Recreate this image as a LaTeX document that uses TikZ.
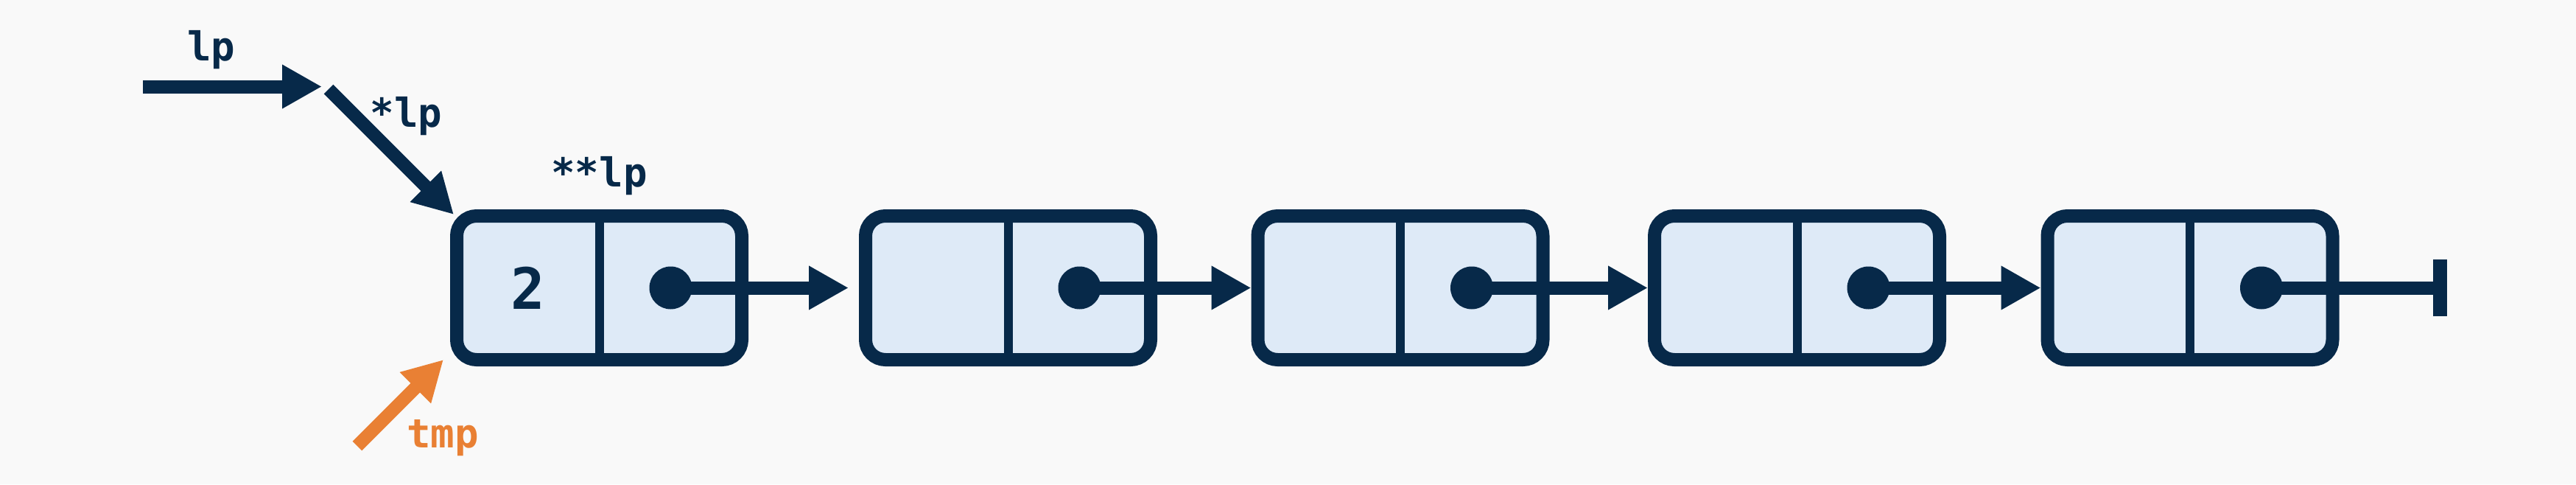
\documentclass[tikz,border=0pt]{standalone}
\usepackage{fontspec}
\setmonofont{DejaVu Sans Mono}
\usetikzlibrary{arrows.meta,calc}

\definecolor{navy}{HTML}{072949}
\definecolor{cellfill}{HTML}{DEEAF7}
\definecolor{tmporange}{HTML}{E98034}
\definecolor{paper}{HTML}{F9F9F9}

\begin{document}
\begin{tikzpicture}[
        link/.style={navy, line width=1.8mm, -{Triangle[length=5.4mm,width=5.6mm]}},
        cell/.style={draw=navy, fill=cellfill, line width=1.8mm, rounded corners=2.7mm,
            minimum width=38.7mm, minimum height=19.5mm, inner sep=0pt},
        ptr/.style={circle, fill=navy, minimum size=5.8mm, inner sep=0pt},
        lbl/.style={font=\ttfamily\bfseries\fontsize{15.4}{18}\selectfont, text=navy, anchor=base}]
                % background
                \fill[paper] (0,0) rectangle (34.97,6.57);
                \useasboundingbox (0,0) rectangle (34.97,6.57);
                % list nodes
                \foreach \i/\x in {1/8.135, 2/13.685, 3/19.01, 4/24.395, 5/29.73}{
                    \node[cell] (b\i) at (\x,2.665) {};
                    \draw[navy, line width=1.2mm] (b\i.north) -- (b\i.south);
                    \node[ptr] (d\i) at ($(b\i.center)+(0.97,0)$) {};
                }
                \node[font=\ttfamily\bfseries\fontsize{22}{26}\selectfont, text=navy] (val) at ($(b1.center)+(-0.97,0)$) {2};
                % next pointers
                \draw[link] (d1.center) -- ([xshift=-1.4mm]b2.west);
                \foreach \i/\j in {2/3, 3/4, 4/5}{\draw[link] (d\i.center) -- (b\j.west);}
                % null
                \coordinate (nil) at (33.12,2.665);
                \draw[navy, line width=1.8mm] (d5.center) -- (nil);
                \draw[navy, line width=1.9mm] ([yshift=-3.85mm]nil) -- ([yshift=3.85mm]nil);
                % pointers into the list
                \coordinate (lp) at (1.94,5.395);
                \coordinate (lptip) at (4.37,5.395);
                \coordinate (plp) at (4.46,5.36);
                \coordinate (plptip) at (6.16,3.66);
                \coordinate (tmp) at (4.85,0.52);
                \coordinate (tmptip) at (6.02,1.69);
                \draw[link] (lp) -- (lptip);
                \draw[link] (plp) -- (plptip);
                \draw[link, tmporange] (tmp) -- (tmptip);
                % labels
                \node[lbl] (lplbl) at (2.87,5.75) {lp};
                \node[lbl] (plplbl) at (5.515,4.85) {*lp};
                \node[lbl] (pplbl) at ([yshift=3.1mm]b1.north) {**lp};
                \node[lbl, text=tmporange] (tmplbl) at (6.01,0.495) {tmp};
            \end{tikzpicture}
\end{document}
